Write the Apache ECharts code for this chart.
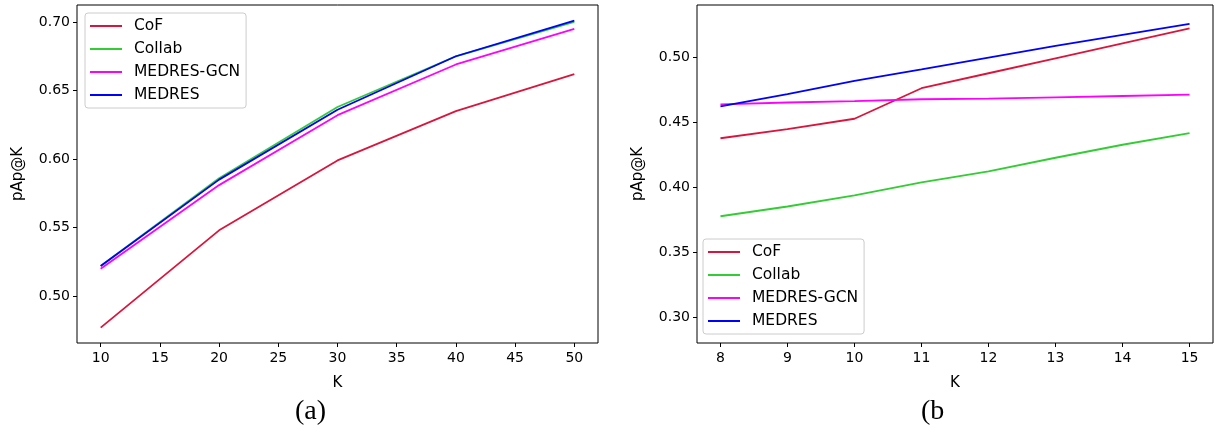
<!DOCTYPE html>
<html>
<head>
<meta charset="utf-8">
<script src="https://cdn.jsdelivr.net/npm/echarts@6/dist/echarts.min.js"></script>
<style>
  html, body { margin: 0; padding: 0; background: #fff; }
  #chart { width: 1215px; height: 435px; }
</style>
</head>
<body>
<div id="chart"></div>
<script>
// panel (a)
const kA = [10, 20, 30, 40, 50];
const cofA = [0.477, 0.548, 0.599, 0.635, 0.662];
const collabA = [0.522, 0.586, 0.638, 0.675, 0.700];
const gcnA = [0.520, 0.581, 0.632, 0.669, 0.695];
const medresA = [0.522, 0.585, 0.636, 0.675, 0.701];
const xTicksA = [10, 15, 20, 25, 30, 35, 40, 45, 50];
const yTicksA = [0.50, 0.55, 0.60, 0.65, 0.70];

// panel (b)
const kB = [8, 9, 10, 11, 12, 13, 14, 15];
const cofB = [0.4375, 0.4445, 0.4525, 0.476, 0.4875, 0.499, 0.5105, 0.522];
const collabB = [0.3775, 0.385, 0.3935, 0.4035, 0.412, 0.4225, 0.4325, 0.4415];
const gcnB = [0.4635, 0.465, 0.466, 0.4675, 0.468, 0.469, 0.470, 0.471];
const medresB = [0.462, 0.4715, 0.4816, 0.4905, 0.4995, 0.5085, 0.517, 0.5255];
const xTicksB = [8, 9, 10, 11, 12, 13, 14, 15];
const yTicksB = [0.30, 0.35, 0.40, 0.45, 0.50];

const names = ['CoF', 'Collab', 'MEDRES-GCN', 'MEDRES'];
const colors = ['#dc143c', '#32cd32', '#ff00ff', '#0000ff'];

const font = 'DejaVu Sans';
const zip = (xs, ys) => xs.map((x, i) => [x, ys[i]]);

function xAxis(idx, min, max, ticks) {
  return {
    type: 'value', gridIndex: idx, min: min, max: max,
    name: 'K', nameLocation: 'middle', nameGap: 33,
    nameTextStyle: { fontFamily: font, fontSize: 15, color: '#000' },
    axisLine: { show: false },
    axisTick: { show: true, length: 4, customValues: ticks, lineStyle: { color: '#000' } },
    axisLabel: { customValues: ticks, fontFamily: font, fontSize: 14, color: '#000', margin: 8 },
    splitLine: { show: false }
  };
}
function yAxis(idx, min, max, ticks) {
  return {
    type: 'value', gridIndex: idx, min: min, max: max,
    name: 'pAp@K', nameLocation: 'middle', nameGap: 51,
    nameTextStyle: { fontFamily: font, fontSize: 15, color: '#000' },
    axisLine: { show: false },
    axisTick: { show: true, length: 4, customValues: ticks, lineStyle: { color: '#000' } },
    axisLabel: { customValues: ticks, fontFamily: font, fontSize: 14, color: '#000', margin: 7,
      formatter: v => v.toFixed(2) },
    splitLine: { show: false }
  };
}
function line(name, color, idx, data) {
  return {
    type: 'line', name: name, xAxisIndex: idx, yAxisIndex: idx,
    data: data, showSymbol: false, symbol: 'none',
    lineStyle: { color: color, width: 1.8 }, itemStyle: { color: color },
    animation: false
  };
}
function legend(left, top) {
  return {
    orient: 'vertical', left: left, top: top,
    data: names.map(n => ({ name: n, icon: 'rect' })),
    itemWidth: 32, itemHeight: 2, itemGap: 7,
    padding: [5, 6, 5, 5],
    backgroundColor: '#fff', borderColor: '#cccccc', borderWidth: 1, borderRadius: 3,
    textStyle: { fontFamily: font, fontSize: 15.5, color: '#000', padding: [0, 0, 0, 7] },
    selectedMode: false
  };
}

const dataA = [cofA, collabA, gcnA, medresA];
const dataB = [cofB, collabB, gcnB, medresB];

const chart = echarts.init(document.getElementById('chart'), null, { renderer: 'canvas' });
chart.setOption({
  backgroundColor: '#fff',
  animation: false,
  grid: [
    { left: 77, width: 521, top: 5, height: 338, show: true, borderColor: '#000', borderWidth: 1, backgroundColor: 'transparent' },
    { left: 697, width: 516, top: 5, height: 338, show: true, borderColor: '#000', borderWidth: 1, backgroundColor: 'transparent' }
  ],
  xAxis: [xAxis(0, 8, 52, xTicksA), xAxis(1, 7.65, 15.35, xTicksB)],
  yAxis: [yAxis(0, 0.4658, 0.7124, yTicksA), yAxis(1, 0.28, 0.54, yTicksB)],
  legend: [legend(85, 13), legend(703, 239)],
  series: [
    ...names.map((n, i) => line(n, colors[i], 0, zip(kA, dataA[i]))),
    ...names.map((n, i) => line(n, colors[i], 1, zip(kB, dataB[i])))
  ],
  graphic: [
    { type: 'text', left: 295, top: 398, style: { text: '(a)', font: '28px "Liberation Serif"', fill: '#000' } },
    { type: 'text', left: 921, top: 398, style: { text: '(b', font: '28px "Liberation Serif"', fill: '#000' } }
  ]
});
</script>
</body>
</html>
